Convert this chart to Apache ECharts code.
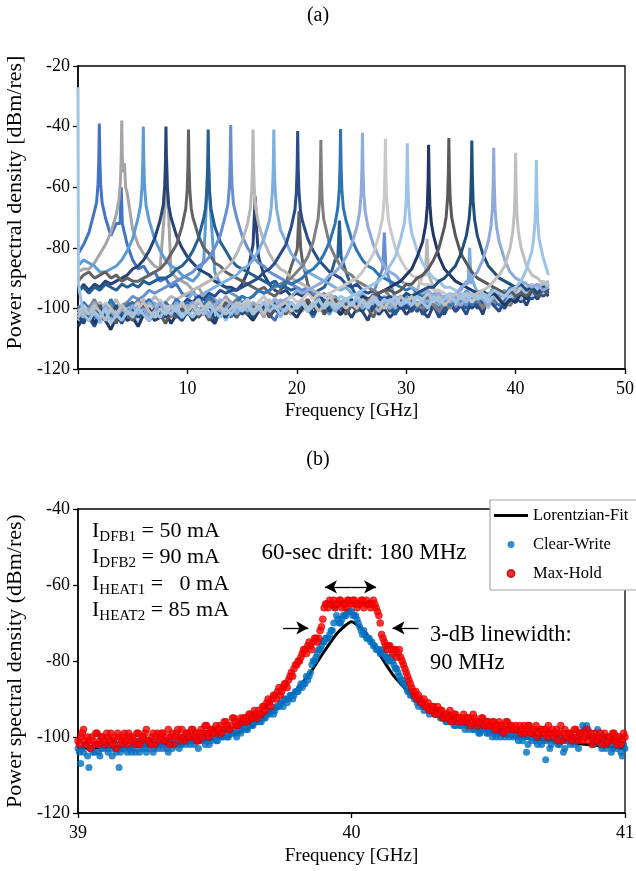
<!DOCTYPE html>
<html><head><meta charset="utf-8">
<script src="https://cdn.jsdelivr.net/npm/echarts@6/dist/echarts.min.js"></script>
<style>html,body{margin:0;padding:0;background:#fff}#c{width:636px;height:871px}</style>
</head><body><div id="c"></div>
<script>
// ---------- (a) spectra: frequency grid [GHz] ----------
const freqGrid = [0,0.5,1,1.5,2,2.5,3,3.5,4,4.5,5,5.5,6,6.5,7,7.5,8,8.5,9,9.5,
10,10.5,11,11.5,12,12.5,13,13.5,14,14.5,15,15.5,16,16.5,17,17.5,18,18.5,19,19.5,
20,20.5,21,21.5,22,22.5,23,23.5,24,24.5,25,25.5,26,26.5,27,27.5,28,28.5,29,29.5,
30,30.5,31,31.5,32,32.5,33,33.5,34,34.5,35,35.5,36,36.5,37,37.5,38,38.5,39,39.5,
40,40.5,41,41.5,42,42.5,43];

// each trace: levels on freqGrid [dBm/res] + narrow spike points [GHz, dBm/res]
const floor02 = [-82,-79,-75,-68,-40,-70,-76,-72,-70,-79,-84,-87,-86,-89,-88,-91,-90,-93,-92,-95,-96,-94,-98,-97,-99,-101,-98,-100,-103,-99,-101,-99,-103,-100,-98,-102,-104,-100,-101,-99,-101,-98,-100,-103,-99,-101,-97,-100,-102,-99,-98,-101,-99,-97,-100,-102,-98,-99,-96,-100,-97,-99,-101,-98,-96,-99,-100,-97,-98,-95,-97,-95,-98,-96,-94,-97,-99,-95,-96,-93,-95,-93,-96,-94,-92,-95,-93];
const spike02 = [[[1.7,-65],[1.83,-59],[1.9,-51],[1.95,-39],[2.0,-51],[2.07,-59],[2.2,-65]],[[3.85,-72],[3.95,-60],[4.05,-72]]];
const floor04 = [-88,-87,-87,-85,-82,-79,-75,-69,-38,-62,-74,-79,-82,-84,-86,-87,-80,-88,-90,-91,-92,-94,-93,-96,-95,-97,-99,-96,-98,-100,-99,-102,-98,-100,-103,-99,-101,-97,-100,-102,-99,-101,-98,-100,-97,-102,-99,-100,-98,-101,-97,-99,-101,-98,-100,-96,-99,-98,-101,-97,-98,-96,-99,-97,-100,-98,-95,-99,-97,-96,-95,-98,-96,-94,-97,-95,-98,-94,-96,-95,-93,-96,-94,-92,-95,-93,-91];
const spike04 = [[[3.75,-64],[3.88,-58],[3.95,-50],[4.0,-38],[4.05,-50],[4.12,-55],[4.25,-52],[4.35,-60]],[[7.95,-66],[8.1,-50],[8.25,-66]]];
const floor06 = [-86,-84,-85,-86,-88,-88,-87,-86,-84,-81,-77,-70,-40,-71,-77,-81,-84,-86,-87,-89,-90,-91,-89,-84,-76,-88,-92,-93,-95,-96,-98,-97,-100,-99,-102,-98,-101,-100,-97,-99,-100,-98,-101,-99,-96,-100,-102,-98,-99,-97,-99,-100,-97,-98,-101,-99,-96,-98,-100,-97,-96,-98,-100,-97,-99,-95,-98,-97,-99,-96,-97,-94,-96,-98,-95,-96,-93,-97,-95,-94,-96,-93,-95,-92,-94,-91,-93];
const spike06 = [[[5.72,-66],[5.85,-60],[5.92,-52],[5.97,-40],[6.02,-52],[6.09,-60],[6.22,-66]],[[11.75,-64],[11.9,-50],[12.05,-64]]];
const floor08 = [-95,-92,-94,-92,-93,-91,-92,-91,-90,-89,-87,-86,-84,-81,-77,-71,-40,-70,-76,-80,-83,-85,-87,-88,-89,-91,-92,-93,-93,-94,-92,-88,-79,-83,-89,-92,-94,-95,-94,-96,-95,-96,-94,-97,-95,-98,-100,-99,-102,-100,-103,-100,-101,-104,-99,-102,-100,-103,-101,-99,-102,-100,-98,-101,-103,-99,-100,-102,-98,-101,-99,-97,-100,-98,-102,-96,-99,-98,-100,-97,-98,-96,-99,-95,-97,-94,-96];
const spike08 = [[[7.79,-66],[7.92,-60],[7.99,-52],[8.04,-40],[8.09,-52],[8.16,-60],[8.29,-66]],[[16.05,-75],[16.2,-63],[16.35,-75]]];
const floor10 = [-91,-89,-88,-90,-89,-88,-90,-89,-91,-90,-91,-91,-90,-89,-88,-87,-85,-82,-79,-73,-41,-70,-76,-80,-82,-85,-86,-88,-89,-90,-91,-92,-93,-94,-93,-95,-96,-94,-92,-86,-81,-84,-92,-96,-97,-99,-101,-98,-100,-102,-99,-101,-98,-100,-103,-99,-97,-101,-100,-98,-100,-97,-99,-101,-98,-96,-100,-99,-97,-100,-98,-96,-99,-97,-95,-98,-96,-99,-94,-97,-95,-97,-94,-96,-93,-95,-94];
const spike10 = [[[9.85,-67],[9.98,-61],[10.05,-53],[10.1,-41],[10.15,-53],[10.22,-61],[10.35,-67]],[[20.05,-80],[20.2,-68],[20.35,-80]]];
const floor12 = [-94,-93,-95,-93,-94,-92,-93,-94,-92,-93,-92,-93,-91,-92,-91,-90,-90,-89,-87,-86,-84,-81,-77,-70,-41,-73,-78,-81,-84,-86,-87,-88,-89,-90,-91,-92,-91,-93,-93,-94,-93,-95,-94,-95,-94,-93,-90,-84,-80,-88,-93,-96,-98,-100,-99,-101,-98,-100,-102,-99,-100,-98,-101,-99,-97,-100,-98,-101,-99,-97,-98,-100,-96,-99,-97,-95,-98,-96,-99,-95,-97,-94,-96,-93,-95,-92,-94];
const spike12 = [[[11.65,-67],[11.78,-61],[11.85,-53],[11.9,-41],[11.95,-53],[12.02,-61],[12.15,-67]],[[23.75,-83],[23.9,-71],[24.05,-83]]];
const floor14 = [-101,-99,-102,-100,-98,-101,-99,-103,-99,-98,-96,-97,-96,-94,-95,-94,-93,-92,-91,-90,-89,-88,-86,-85,-83,-80,-76,-69,-39.5,-70,-76,-80,-83,-85,-86,-88,-89,-90,-91,-92,-93,-94,-93,-95,-96,-95,-97,-96,-98,-97,-99,-97,-100,-98,-95,-90,-80,-91,-97,-100,-98,-101,-99,-97,-100,-98,-102,-99,-97,-100,-97,-99,-96,-98,-95,-97,-99,-96,-94,-97,-95,-93,-96,-94,-92,-95,-93];
const spike14 = [[[13.71,-65.5],[13.84,-59.5],[13.91,-51.5],[13.96,-39.5],[14.01,-51.5],[14.08,-59.5],[14.21,-65.5]],[[27.85,-87],[28.0,-75],[28.15,-87]]];
const floor16 = [-100,-103,-99,-101,-98,-102,-100,-97,-101,-99,-98,-100,-97,-99,-96,-98,-98,-96,-97,-96,-95,-94,-93,-92,-91,-90,-88,-87,-85,-82,-78,-72,-41,-72,-78,-82,-85,-87,-88,-90,-91,-92,-93,-94,-95,-96,-95,-97,-98,-97,-99,-98,-100,-97,-99,-101,-98,-100,-97,-99,-98,-96,-94,-89,-80,-93,-97,-99,-96,-98,-99,-96,-98,-95,-97,-100,-96,-98,-95,-97,-94,-96,-93,-95,-92,-94,-92];
const spike16 = [[[15.75,-67],[15.88,-61],[15.95,-53],[16.0,-41],[16.05,-53],[16.12,-61],[16.25,-67]],[[31.75,-89],[31.9,-77],[32.05,-89]]];
const floor18 = [-102,-99,-101,-104,-100,-102,-98,-101,-103,-100,-101,-99,-102,-100,-98,-101,-99,-100,-97,-99,-97,-95,-96,-95,-94,-93,-92,-91,-90,-89,-87,-86,-84,-81,-77,-71,-41,-74,-78,-82,-84,-86,-88,-89,-90,-91,-92,-93,-94,-93,-95,-96,-95,-97,-98,-96,-99,-97,-100,-98,-97,-99,-96,-98,-100,-97,-99,-96,-98,-95,-94,-91,-90,-95,-97,-95,-98,-96,-94,-97,-95,-93,-96,-92,-94,-93,-91];
const spike18 = [[[17.65,-67],[17.78,-61],[17.85,-53],[17.9,-41],[17.95,-53],[18.02,-61],[18.15,-67]],[[35.65,-92],[35.8,-80],[35.95,-92]]];
const floor20 = [-104,-101,-103,-106,-102,-100,-104,-102,-105,-101,-103,-100,-102,-104,-101,-99,-103,-100,-102,-99,-97,-98,-96,-97,-95,-96,-94,-95,-94,-94,-93,-92,-91,-90,-88,-87,-85,-82,-79,-73,-41.5,-71,-77,-81,-84,-86,-88,-89,-90,-92,-93,-92,-94,-95,-94,-96,-97,-96,-98,-100,-99,-101,-98,-102,-100,-99,-103,-100,-98,-101,-99,-102,-97,-100,-98,-96,-99,-101,-97,-99,-96,-98,-95,-97,-94,-96,-95];
const spike20 = [[[19.83,-67.5],[19.96,-61.5],[20.03,-53.5],[20.08,-41.5],[20.13,-53.5],[20.2,-61.5],[20.33,-67.5]]];
const floor22 = [-99,-102,-100,-97,-101,-103,-99,-100,-102,-98,-100,-97,-101,-99,-102,-98,-100,-103,-99,-101,-100,-98,-101,-99,-97,-100,-98,-101,-99,-97,-96,-97,-96,-94,-95,-94,-93,-92,-91,-90,-88,-86,-83,-78,-44.4,-70,-79,-83,-86,-88,-89,-91,-92,-93,-94,-95,-94,-96,-97,-96,-98,-97,-99,-100,-97,-99,-101,-98,-100,-97,-99,-96,-98,-97,-100,-96,-98,-95,-97,-99,-96,-94,-97,-93,-95,-94,-92];
const spike22 = [[[21.95,-70.4],[22.08,-64.4],[22.15,-56.4],[22.2,-44.4],[22.25,-56.4],[22.32,-64.4],[22.45,-70.4]]];
const floor24 = [-101,-98,-100,-103,-99,-101,-97,-100,-102,-99,-98,-101,-99,-97,-100,-102,-98,-100,-97,-99,-98,-100,-97,-99,-96,-98,-100,-97,-99,-98,-96,-97,-96,-94,-95,-94,-92,-93,-91,-92,-91,-90,-88,-87,-85,-82,-78,-72,-40.8,-71,-77,-81,-84,-86,-87,-89,-90,-91,-92,-93,-94,-93,-95,-96,-95,-97,-98,-96,-99,-97,-98,-96,-99,-97,-95,-98,-96,-99,-97,-95,-97,-94,-96,-93,-95,-92,-94];
const spike24 = [[[23.75,-66.8],[23.88,-60.8],[23.95,-52.8],[24.0,-40.8],[24.05,-52.8],[24.12,-60.8],[24.25,-66.8]]];
const floor26 = [-100,-103,-101,-98,-102,-100,-104,-99,-101,-100,-102,-99,-101,-98,-100,-103,-99,-101,-98,-100,-99,-101,-98,-100,-102,-99,-97,-100,-98,-101,-99,-97,-100,-98,-96,-99,-97,-98,-97,-96,-94,-95,-94,-93,-92,-91,-89,-88,-86,-83,-79,-73,-42,-73,-79,-83,-86,-88,-89,-91,-92,-93,-94,-95,-94,-96,-97,-96,-98,-97,-99,-96,-98,-95,-97,-99,-96,-98,-95,-97,-95,-97,-94,-96,-93,-95,-93];
const spike26 = [[[25.75,-68],[25.88,-62],[25.95,-54],[26.0,-42],[26.05,-54],[26.12,-62],[26.25,-68]]];
const floor28 = [-102,-99,-101,-100,-103,-98,-100,-102,-99,-101,-100,-98,-102,-99,-101,-97,-100,-99,-102,-98,-101,-99,-97,-100,-98,-101,-99,-97,-100,-98,-99,-97,-100,-98,-96,-99,-97,-100,-98,-96,-98,-97,-95,-97,-95,-96,-95,-94,-93,-92,-91,-90,-88,-85,-82,-76,-44,-73,-80,-84,-87,-89,-90,-92,-92,-94,-94,-95,-96,-95,-97,-95,-98,-96,-94,-97,-95,-98,-96,-94,-96,-93,-95,-92,-94,-91,-93];
const spike28 = [[[27.85,-70],[27.98,-64],[28.05,-56],[28.1,-44],[28.15,-56],[28.22,-64],[28.35,-70]]];
const floor30 = [-104,-101,-103,-100,-105,-102,-100,-103,-101,-104,-102,-105,-101,-103,-100,-102,-104,-101,-103,-100,-102,-100,-103,-101,-99,-102,-100,-104,-101,-99,-101,-99,-102,-100,-98,-101,-99,-103,-100,-98,-100,-98,-101,-99,-97,-100,-96,-98,-96,-97,-96,-95,-94,-93,-92,-91,-89,-86,-83,-77,-45.5,-75,-81,-85,-88,-90,-91,-93,-93,-94,-95,-96,-95,-97,-96,-98,-95,-97,-99,-96,-95,-97,-94,-96,-93,-95,-92];
const spike30 = [[[29.85,-71.5],[29.98,-65.5],[30.05,-57.5],[30.1,-45.5],[30.15,-57.5],[30.22,-65.5],[30.35,-71.5]]];
const floor32 = [-106,-103,-101,-105,-102,-104,-107,-103,-100,-104,-103,-106,-102,-100,-104,-103,-101,-105,-102,-104,-101,-104,-102,-100,-103,-105,-101,-102,-99,-103,-100,-102,-104,-101,-99,-103,-100,-102,-98,-101,-103,-100,-98,-102,-99,-101,-97,-100,-102,-99,-98,-98,-96,-97,-96,-95,-94,-93,-92,-91,-89,-87,-83,-78,-46,-76,-83,-87,-89,-91,-92,-93,-94,-95,-94,-96,-95,-97,-99,-97,-98,-95,-97,-94,-96,-93,-95];
const spike32 = [[[31.8,-72],[31.93,-66],[32.0,-58],[32.05,-46],[32.1,-58],[32.17,-66],[32.3,-72]]];
const floor34 = [-103,-100,-104,-102,-99,-103,-101,-105,-100,-102,-104,-101,-99,-103,-100,-102,-105,-101,-103,-100,-102,-99,-103,-101,-104,-100,-102,-98,-101,-103,-100,-102,-99,-101,-98,-103,-100,-99,-102,-98,-101,-99,-97,-100,-98,-102,-99,-97,-100,-98,-99,-97,-98,-97,-96,-95,-94,-94,-95,-94,-92,-92,-90,-89,-87,-84,-80,-73,-43.8,-76,-82,-85,-88,-90,-91,-92,-93,-94,-95,-94,-96,-95,-96,-94,-96,-94,-95];
const spike34 = [[[33.65,-69.8],[33.78,-63.8],[33.85,-55.8],[33.9,-43.8],[33.95,-55.8],[34.02,-63.8],[34.15,-69.8]]];
const floor36 = [-102,-105,-101,-103,-100,-104,-102,-99,-103,-101,-100,-103,-101,-104,-102,-99,-103,-100,-102,-104,-101,-103,-100,-102,-99,-104,-101,-103,-100,-98,-102,-100,-103,-99,-101,-100,-98,-102,-100,-99,-101,-98,-100,-102,-99,-97,-101,-99,-98,-100,-97,-99,-101,-98,-100,-97,-99,-96,-98,-97,-95,-96,-95,-94,-93,-93,-91,-90,-88,-86,-82,-76,-44.6,-76,-82,-86,-88,-90,-91,-92,-93,-92,-94,-93,-95,-93,-94];
const spike36 = [[[35.75,-70.6],[35.88,-64.6],[35.95,-56.6],[36.0,-44.6],[36.05,-56.6],[36.12,-64.6],[36.25,-70.6]]];
const floor38 = [-101,-103,-100,-102,-104,-99,-101,-103,-100,-102,-99,-102,-100,-103,-101,-98,-102,-100,-101,-103,-100,-98,-102,-100,-103,-99,-101,-100,-98,-102,-99,-101,-98,-100,-102,-99,-97,-100,-101,-98,-100,-98,-101,-99,-97,-100,-98,-101,-99,-97,-99,-97,-100,-98,-96,-99,-98,-100,-97,-99,-98,-96,-99,-97,-98,-96,-95,-97,-95,-96,-93,-92,-90,-88,-84,-78,-47,-78,-84,-88,-90,-91,-92,-93,-92,-94,-93];
const spike38 = [[[37.75,-73],[37.88,-67],[37.95,-59],[38.0,-47],[38.05,-59],[38.12,-67],[38.25,-73]]];
const floor40 = [-103,-100,-102,-99,-101,-104,-100,-102,-99,-101,-102,-100,-98,-101,-103,-100,-102,-99,-101,-98,-101,-99,-102,-100,-98,-101,-99,-102,-100,-98,-100,-98,-101,-99,-102,-97,-100,-99,-98,-101,-99,-97,-100,-98,-101,-99,-96,-99,-98,-100,-98,-100,-97,-99,-96,-98,-100,-97,-99,-96,-98,-96,-99,-97,-95,-98,-96,-99,-97,-95,-97,-95,-96,-95,-94,-93,-91,-89,-86,-80,-48.6,-80,-86,-89,-90,-92,-91];
const spike40 = [[[39.75,-74.6],[39.88,-68.6],[39.95,-60.6],[40.0,-48.6],[40.05,-60.6],[40.12,-68.6],[40.25,-74.6]]];
const floor42 = [-27,-102,-104,-101,-103,-100,-105,-102,-104,-101,-103,-100,-102,-104,-101,-103,-100,-102,-99,-103,-101,-103,-100,-102,-99,-101,-103,-100,-102,-99,-101,-99,-102,-100,-98,-101,-99,-102,-100,-98,-100,-98,-101,-99,-97,-100,-98,-100,-99,-97,-99,-96,-98,-100,-97,-99,-97,-98,-96,-99,-97,-99,-96,-98,-100,-96,-98,-97,-95,-98,-96,-98,-95,-97,-95,-96,-94,-95,-96,-94,-93,-91,-87,-81,-51,-83,-89];
const spike42 = [[[0,-27],[0.04,-92]],[[41.65,-77],[41.78,-71],[41.85,-63],[41.9,-51],[41.95,-63],[42.02,-71],[42.15,-77]]];

const traceColors = ['#4472C4','#A5A5A5','#5B9BD5','#264478','#636363','#255E91','#698ED0','#B7B7B7','#7CAFDD','#2B4C8C','#7F7F7F','#2E75B6','#8FAADC','#C9C9C9','#9DC3E6','#1F3864','#595959','#1F4E79','#8EA9DB','#BFBFBF','#9DC3E6'];

// ---------- (b) linewidth measurement ----------
// sweep points at 39.000, 39.010, ... (A) and 39.005, 39.015, ... (B) GHz
const sweepStart = 39.0, sweepStep = 0.01, sweepHalf = 0.005;
const maxHoldA = [
-101,-100,-98,-102,-101,-100,-102,-99,-101,-100,
-102,-100,-99,-101,-103,-100,-101,-99,-102,-100,
-100,-102,-99,-101,-100,-98,-101,-100,-102,-99,
-100,-99,-101,-98,-100,-102,-99,-100,-98,-101,
-99,-100,-98,-99,-101,-98,-99,-97,-100,-98,
-98,-99,-97,-98,-96,-98,-97,-95,-97,-96,
-96,-95,-96,-94,-95,-94,-93,-94,-92,-91,
-91,-90,-89,-88,-89,-87,-86,-85,-83,-82,
-81,-80,-78,-77,-76,-76,-75,-74,-74,-71,
-66,-65,-64,-65,-66,-65,-64,-65,-66,-64,
-65,-64,-66,-65,-64,-65,-65,-66,-64,-66,
-68,-73,-75,-77,-76,-78,-77,-78,-79,-81,
-83,-85,-87,-89,-90,-90,-91,-92,-91,-93,
-92,-93,-94,-93,-95,-94,-93,-95,-94,-96,
-95,-94,-96,-95,-96,-95,-97,-96,-95,-97,
-96,-97,-96,-98,-96,-97,-98,-96,-97,-98,
-97,-98,-99,-97,-98,-97,-99,-98,-100,-98,
-99,-98,-97,-99,-100,-98,-99,-101,-98,-100,
-99,-100,-98,-101,-99,-100,-98,-100,-102,-99,
-101,-99,-100,-102,-100,-101,-99,-102,-100,-101,
-100];
const maxHoldB = [
-102,-99,-101,-100,-103,-101,-99,-102,-100,-101,
-99,-101,-102,-100,-99,-102,-100,-101,-99,-101,
-101,-99,-102,-100,-99,-101,-102,-99,-100,-101,
-99,-101,-100,-102,-99,-100,-98,-101,-100,-99,
-100,-98,-100,-101,-99,-100,-97,-99,-98,-99,
-97,-98,-99,-96,-97,-98,-95,-96,-97,-95,
-95,-96,-94,-95,-93,-95,-94,-92,-93,-90,
-92,-89,-90,-87,-88,-86,-87,-84,-84,-81,
-80,-79,-77,-78,-75,-77,-74,-75,-72,-69,
-65,-66,-65,-64,-65,-64,-66,-65,-64,-65,
-64,-65,-65,-64,-66,-64,-65,-65,-65,-67,
-70,-74,-76,-76,-77,-77,-79,-77,-80,-82,
-84,-86,-88,-88,-89,-91,-90,-92,-93,-92,
-94,-92,-93,-95,-94,-95,-96,-94,-95,-95,
-96,-95,-95,-97,-94,-96,-96,-95,-97,-96,
-97,-96,-98,-97,-97,-99,-96,-98,-97,-98,
-98,-97,-98,-99,-97,-99,-98,-97,-99,-98,
-98,-100,-99,-98,-99,-101,-97,-99,-100,-99,
-101,-98,-100,-99,-101,-99,-101,-99,-100,-101,
-100,-102,-99,-101,-100,-99,-101,-100,-102,-99];
const clearWriteA = [
-103,-107,-104,-102,-108,-103,-104,-102,-105,-103,
-102,-104,-103,-101,-104,-108,-103,-102,-104,-103,
-102,-104,-101,-103,-102,-104,-103,-101,-103,-102,
-101,-103,-102,-104,-101,-102,-100,-103,-102,-101,
-101,-102,-100,-101,-103,-100,-101,-99,-102,-100,
-100,-101,-99,-100,-98,-100,-99,-98,-100,-98,
-98,-97,-98,-96,-97,-96,-95,-96,-95,-94,
-94,-93,-93,-92,-91,-92,-90,-90,-89,-89,
-88,-87,-87,-86,-85,-83,-80,-79,-77,-76,
-75,-74,-73,-72,-66,-69,-70,-68,-68,-67,
-67,-68,-69,-71,-73,-73,-74,-75,-76,-77,
-77,-78,-78,-79,-80,-80,-82,-83,-85,-86,
-87,-88,-89,-90,-91,-91,-92,-92,-93,-93,
-93,-94,-94,-95,-95,-96,-96,-95,-97,-96,
-97,-96,-97,-98,-97,-98,-97,-99,-98,-98,
-99,-98,-99,-100,-98,-99,-100,-99,-98,-100,
-99,-101,-100,-99,-104,-100,-101,-100,-102,-100,
-101,-106,-100,-102,-101,-100,-102,-101,-103,-101,
-102,-100,-101,-103,-99,-98,-97,-99,-100,-101,
-98,-102,-101,-103,-102,-104,-101,-103,-102,-105,
-103];
const clearWriteB = [
-104,-103,-102,-105,-103,-104,-102,-104,-103,-102,
-103,-102,-105,-103,-102,-104,-103,-101,-103,-104,
-103,-102,-104,-102,-103,-101,-102,-104,-102,-103,
-102,-101,-103,-101,-103,-102,-101,-102,-100,-102,
-100,-101,-102,-100,-101,-100,-102,-100,-101,-99,
-101,-99,-100,-99,-100,-98,-99,-99,-97,-99,
-97,-98,-96,-97,-95,-96,-96,-94,-95,-93,
-93,-94,-92,-92,-91,-90,-91,-89,-90,-88,
-88,-86,-86,-84,-84,-81,-80,-78,-77,-75,
-74,-74,-72,-70,-68,-70,-69,-68,-67,-67,
-68,-68,-70,-72,-72,-74,-74,-75,-76,-77,
-78,-77,-79,-80,-79,-81,-82,-84,-85,-86,
-88,-89,-89,-90,-92,-91,-93,-92,-94,-93,
-94,-93,-95,-94,-96,-95,-95,-97,-96,-97,
-96,-98,-97,-97,-98,-97,-99,-98,-97,-99,
-98,-100,-99,-98,-100,-99,-98,-100,-99,-99,
-100,-99,-101,-100,-102,-99,-100,-101,-100,-102,
-100,-101,-103,-100,-101,-102,-100,-104,-101,-100,
-101,-102,-100,-99,-97,-98,-98,-100,-102,-100,
-101,-103,-100,-102,-101,-103,-102,-101,-104,-102];
const lorentzFit = [[39.0,-103],[39.2,-102.5],[39.4,-101.5],[39.5,-100.5],[39.6,-98.5],[39.7,-94],[39.75,-91],[39.8,-87.5],[39.85,-83],[39.9,-77.5],[39.95,-72.5],[40.0,-69.7],[40.05,-72.5],[40.1,-78],[40.15,-83.5],[40.2,-87.5],[40.25,-91],[40.3,-93.5],[40.4,-96.5],[40.5,-98.5],[40.6,-100],[40.8,-101.5],[41.0,-103]];
// annotation arrows in data coordinates [GHz, dBm/res]
const driftArrow = {from: 39.903, to: 40.09, level: -60.5};
const lwArrows = {leftFrom: 39.75, leftTo: 39.842, rightFrom: 40.245, rightTo: 40.15, level: -71.3};

// ---------- build ----------
const F = '"Liberation Serif","Times New Roman",serif';
const floors = [floor02,floor04,floor06,floor08,floor10,floor12,floor14,floor16,floor18,floor20,floor22,floor24,floor26,floor28,floor30,floor32,floor34,floor36,floor38,floor40,floor42];
const spikes = [spike02,spike04,spike06,spike08,spike10,spike12,spike14,spike16,spike18,spike20,spike22,spike24,spike26,spike28,spike30,spike32,spike34,spike36,spike38,spike40,spike42];

function buildTrace(floor, groups) {
  const ranges = groups.map(g => [g[0][0], g[g.length - 1][0]]);
  const pts = [];
  freqGrid.forEach((f, i) => {
    if (!ranges.some(r => f >= r[0] - 1e-9 && f <= r[1] + 1e-9)) pts.push([f, floor[i]]);
  });
  groups.forEach(g => g.forEach(p => pts.push([p[0], p[1]])));
  pts.sort((a, b) => a[0] - b[0]);
  return pts;
}
const sweep = (a, b) => a.map((v, i) => [+(sweepStart + i * sweepStep).toFixed(3), v])
  .concat(b.map((v, i) => [+(sweepStart + sweepHalf + i * sweepStep).toFixed(3), v]));

const series = floors.map((fl, k) => ({
  type: 'line', xAxisIndex: 0, yAxisIndex: 0, name: 'trace' + k,
  data: buildTrace(fl, spikes[k]), symbol: 'none', silent: true,
  lineStyle: {color: traceColors[k], width: 3}, itemStyle: {color: traceColors[k]}, z: 2
}));
series.push({
  name: 'Lorentzian-Fit', type: 'line', xAxisIndex: 1, yAxisIndex: 1,
  data: lorentzFit, symbol: 'none', smooth: 0.2, lineStyle: {color: '#000', width: 3}, itemStyle: {color: '#000'}, z: 1, silent: true
});
series.push({
  name: 'Clear-Write', type: 'scatter', xAxisIndex: 1, yAxisIndex: 1,
  data: sweep(clearWriteA, clearWriteB), symbolSize: 7, itemStyle: {color: '#0070C0'}, z: 2, silent: true
});
series.push({
  name: 'Max-Hold', type: 'scatter', xAxisIndex: 1, yAxisIndex: 1,
  data: sweep(maxHoldA, maxHoldB), symbolSize: 7, itemStyle: {color: '#FF0000', borderColor: '#C00000', borderWidth: 0.6}, z: 4, silent: true,
  markLine: {
    silent: true, symbol: ['none', 'arrow'], symbolSize: [10, 12], animation: false, z: 5,
    label: {show: false}, lineStyle: {color: '#000', width: 1.3, type: 'solid'},
    data: [
      [{coord: [lwArrows.leftFrom, lwArrows.level]}, {coord: [lwArrows.leftTo, lwArrows.level]}],
      [{coord: [lwArrows.rightFrom, lwArrows.level]}, {coord: [lwArrows.rightTo, lwArrows.level]}],
      [{coord: [(driftArrow.from + driftArrow.to) / 2, driftArrow.level]}, {coord: [driftArrow.from, driftArrow.level]}],
      [{coord: [(driftArrow.from + driftArrow.to) / 2, driftArrow.level]}, {coord: [driftArrow.to, driftArrow.level]}]
    ]
  }
});

const axisCommon = {
  axisLine: {show: true, onZero: false, lineStyle: {color: '#000', width: 1.5}},
  axisTick: {show: true, inside: false, length: 5, lineStyle: {color: '#000', width: 1.3}},
  splitLine: {show: false}
};
const labelStyle = {color: '#000', fontFamily: F, fontSize: 18};

const currentLines = [['DFB1', ' = 50 mA'], ['DFB2', ' = 90 mA'], ['HEAT1', ' =   0 mA'], ['HEAT2', ' = 85 mA']];
const rich = {
  m: {fontSize: 22, fontFamily: F, fill: '#000'},
  s: {fontSize: 15, fontFamily: F, fill: '#000', padding: [12, 0, 0, 0], verticalAlign: 'bottom'}
};
const graphics = currentLines.map((l, i) => ({
  type: 'text', x: 92, y: 531 + i * 26.5,
  style: {text: '{m|I}{s|' + l[0] + '}{m|' + l[1] + '}', rich: rich, verticalAlign: 'middle', align: 'left'}
}));
graphics.push({type: 'text', x: 364, y: 553, style: {text: '60-sec drift: 180 MHz', fontSize: 23, fontFamily: F, fill: '#000', align: 'center', verticalAlign: 'middle'}});
graphics.push({type: 'text', x: 430, y: 635, style: {text: '3-dB linewidth:', fontSize: 22.5, fontFamily: F, fill: '#000', align: 'left', verticalAlign: 'middle'}});
graphics.push({type: 'text', x: 430, y: 663, style: {text: '90 MHz', fontSize: 22.5, fontFamily: F, fill: '#000', align: 'left', verticalAlign: 'middle'}});

const chart = echarts.init(document.getElementById('c'), null, {renderer: 'canvas'});
chart.setOption({
  animation: false,
  backgroundColor: '#fff',
  title: [
    {text: '(a)', left: 'center', top: 1, textStyle: {fontFamily: F, fontSize: 20, fontWeight: 'normal', color: '#000'}},
    {text: '(b)', left: 'center', top: 445, textStyle: {fontFamily: F, fontSize: 20, fontWeight: 'normal', color: '#000'}}
  ],
  grid: [
    {left: 78, right: 11, top: 66, height: 303, show: true, borderColor: '#000', borderWidth: 1.3, backgroundColor: 'transparent', containLabel: false, outerBoundsMode: 'none'},
    {left: 78, right: 11, top: 509, height: 304, show: true, borderColor: '#000', borderWidth: 1.3, backgroundColor: 'transparent', containLabel: false, outerBoundsMode: 'none'}
  ],
  xAxis: [
    Object.assign({}, axisCommon, {gridIndex: 0, type: 'value', min: 0, max: 50, interval: 10,
      axisLabel: Object.assign({}, labelStyle, {margin: 11, formatter: v => (v === 0 ? '' : String(v))}),
      name: 'Frequency [GHz]', nameLocation: 'middle', nameGap: 33,
      nameTextStyle: {fontFamily: F, fontSize: 19, color: '#000'}}),
    Object.assign({}, axisCommon, {gridIndex: 1, type: 'value', min: 39, max: 41, interval: 1,
      axisLabel: Object.assign({}, labelStyle, {margin: 11}),
      name: 'Frequency [GHz]', nameLocation: 'middle', nameGap: 34,
      nameTextStyle: {fontFamily: F, fontSize: 19, color: '#000'}})
  ],
  yAxis: [
    Object.assign({}, axisCommon, {gridIndex: 0, type: 'value', min: -120, max: -20, interval: 20,
      axisLabel: Object.assign({}, labelStyle, {margin: 8}),
      name: 'Power spectral density [dBm/res]', nameLocation: 'middle', nameGap: 48,
      nameTextStyle: {fontFamily: F, fontSize: 22, color: '#000', padding: [0, 0, 0, 30]}}),
    Object.assign({}, axisCommon, {gridIndex: 1, type: 'value', min: -120, max: -40, interval: 20,
      axisLabel: Object.assign({}, labelStyle, {margin: 8}),
      name: 'Power spectral density (dBm/res)', nameLocation: 'middle', nameGap: 48,
      nameTextStyle: {fontFamily: F, fontSize: 22, color: '#000'}})
  ],
  legend: {
    data: [
      {name: 'Lorentzian-Fit', icon: 'path://M0,0 L34,0 L34,3 L0,3 Z'},
      {name: 'Clear-Write'},
      {name: 'Max-Hold'}
    ],
    orient: 'vertical', left: 490, top: 500,
    itemWidth: 34, itemHeight: 7, itemGap: 12, padding: [7, 40, 8, 4],
    borderColor: '#a6a6a6', borderWidth: 1.2, borderRadius: 0, backgroundColor: '#fff',
    textStyle: {fontFamily: F, fontSize: 16.5, color: '#000'}, selectedMode: false
  },
  graphic: graphics,
  series: series
});
</script></body></html>
